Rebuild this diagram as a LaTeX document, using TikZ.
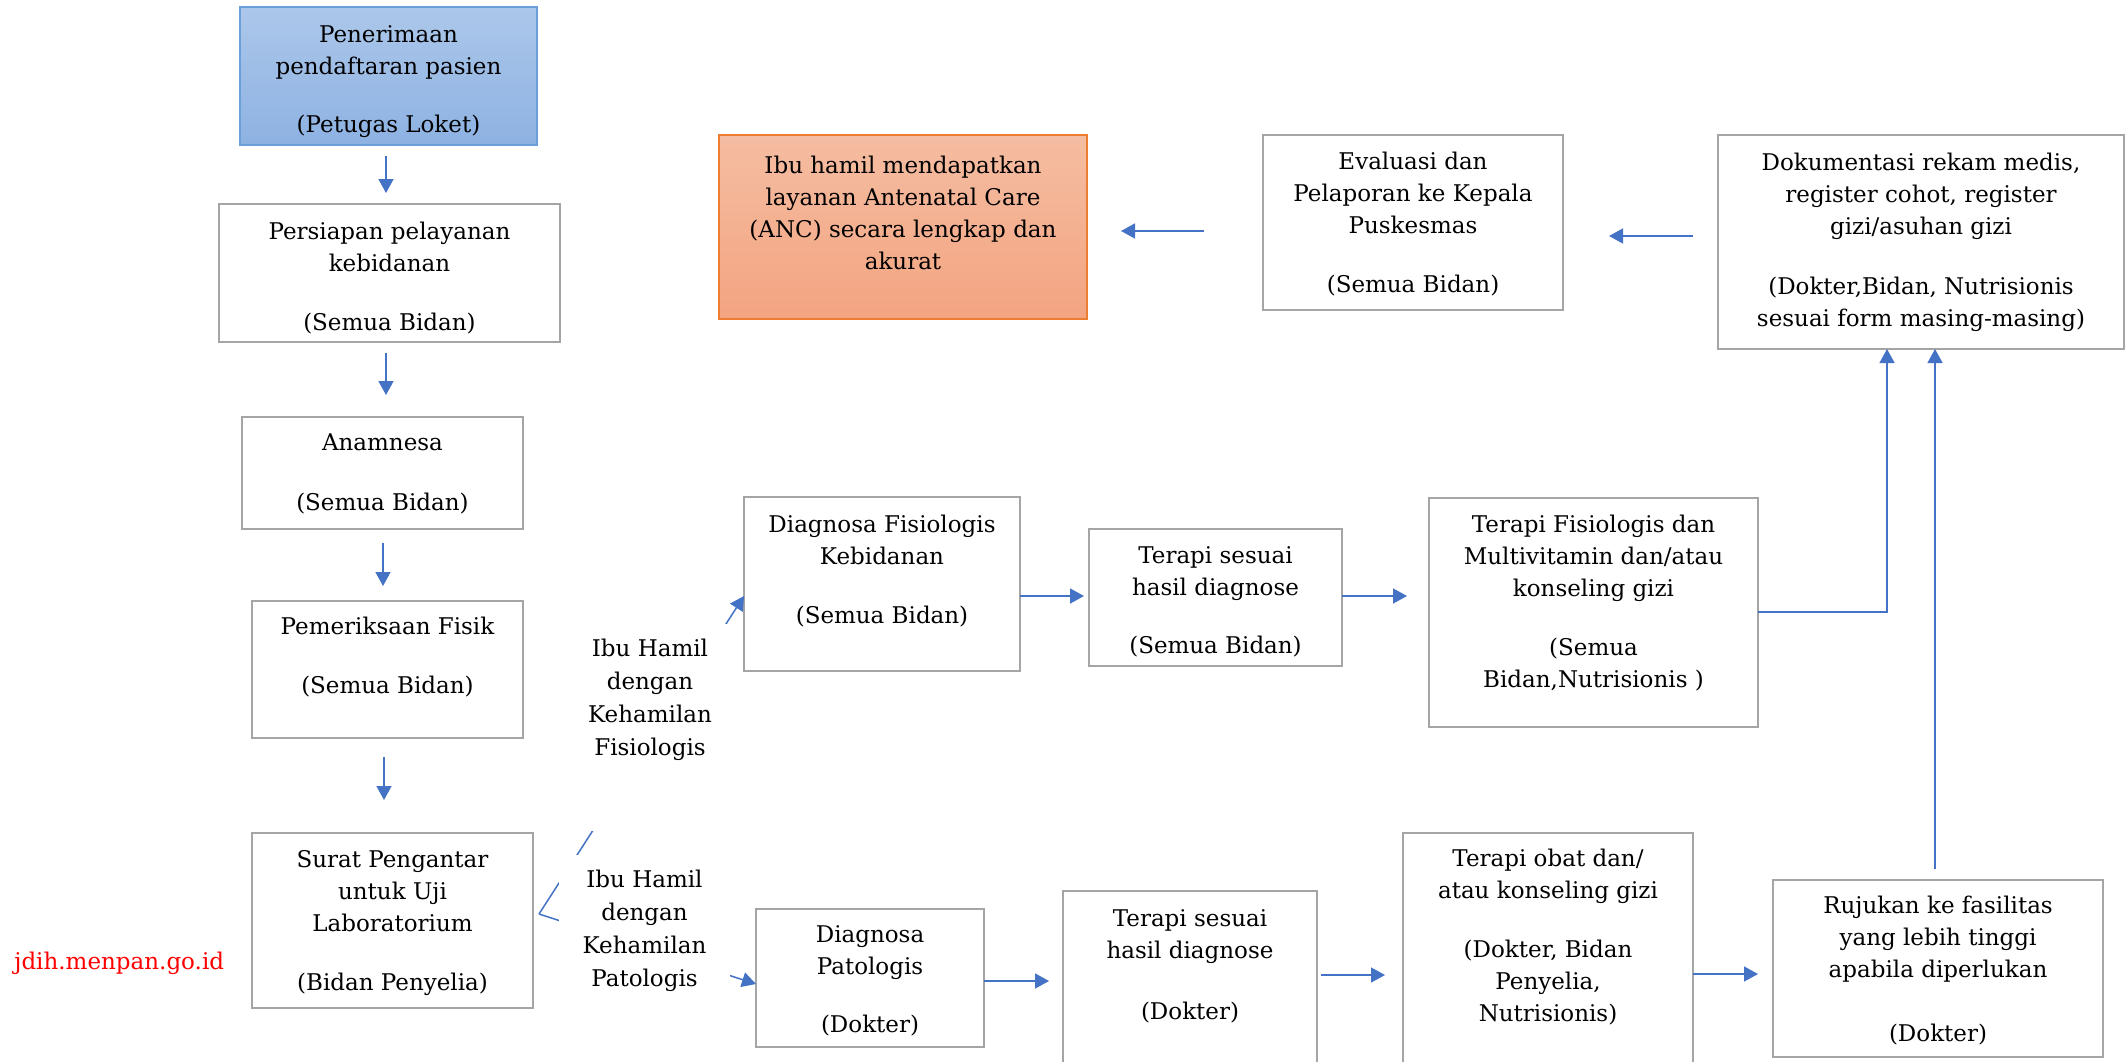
\documentclass[tikz,border=0pt]{standalone}
\usepackage{fontspec}
\setmainfont{DejaVu Serif}
\usetikzlibrary{arrows.meta}
\definecolor{arrowblue}{HTML}{4472C4}
\definecolor{boxgray}{HTML}{A5A5A5}
\definecolor{blueedge}{HTML}{6A9FD8}
\definecolor{bluetop}{RGB}{172,199,234}
\definecolor{bluebot}{RGB}{141,178,226}
\definecolor{orangeedge}{HTML}{ED7D31}
\definecolor{orangetop}{RGB}{245,189,162}
\definecolor{orangebot}{RGB}{243,164,128}
\newcommand{\bxs}{\rule{0pt}{10pt}}
\begin{document}
\begin{tikzpicture}[x=0.5pt,y=-0.5pt,
  stepbox/.style={draw=boxgray, line width=1.3pt, fill=white, inner sep=0pt, outer sep=0pt},
  bluebox/.style={draw=blueedge, line width=0.6pt, top color=bluetop, bottom color=bluebot, inner sep=0pt, outer sep=0pt},
  ancbox/.style={draw=orangeedge, line width=0.6pt, top color=orangetop, bottom color=orangebot, inner sep=0pt, outer sep=0pt},
  txt/.style={font=\fontsize{11.5}{16}\selectfont, align=center, inner sep=0pt, anchor=north},
  lbltxt/.style={font=\fontsize{11.5}{16.5}\selectfont, align=center, inner sep=0pt, anchor=north},
  lblbox/.style={fill=white, draw=none, inner sep=0pt, outer sep=0pt},
  arr/.style={draw=arrowblue, line width=0.75pt, -{Triangle[length=7pt,width=7.5pt]}},
  ln/.style={draw=arrowblue, line width=0.75pt}
]
\useasboundingbox (0,0) rectangle (2128,1061);
\fill[white] (0,0) rectangle (2128,1061);
\clip (0,0) rectangle (2128,1061);

% boxes
\node[bluebox, minimum width=148.5pt, minimum height=69pt] (b1) at (388.5,76) {};
\node[stepbox, minimum width=170.5pt, minimum height=69pt] (b2) at (389.5,273) {};
\node[stepbox, minimum width=140.5pt, minimum height=56pt] (anam) at (382.5,473) {};
\node[stepbox, minimum width=135.5pt, minimum height=68.5pt] (pem) at (387.5,669.5) {};
\node[stepbox, minimum width=140.5pt, minimum height=87.5pt] (surat) at (392.5,920.5) {};
\node[ancbox, minimum width=184pt, minimum height=92pt] (anc) at (903,227) {};
\node[stepbox, minimum width=150pt, minimum height=87.5pt] (eval) at (1413,222.5) {};
\node[stepbox, minimum width=203pt, minimum height=107pt] (dok) at (1921,242) {};
\node[stepbox, minimum width=138pt, minimum height=87pt] (df) at (882,584) {};
\node[stepbox, minimum width=126.5pt, minimum height=68.5pt] (ts1) at (1215.5,597.5) {};
\node[stepbox, minimum width=164.5pt, minimum height=114.5pt] (tf) at (1593.5,612.5) {};
\node[stepbox, minimum width=114pt, minimum height=69pt] (dp) at (870,978) {};
\node[stepbox, minimum width=127pt, minimum height=94.5pt] (ts2) at (1190,985.5) {};
\node[stepbox, minimum width=145pt, minimum height=123.5pt] (to) at (1548,956.5) {};
\node[stepbox, minimum width=165pt, minimum height=88.5pt] (ruj) at (1938,968.5) {};

% texts
\node[txt] (t1) at (388.5,22) {\bxs Penerimaan\\pendaftaran pasien\\[13pt](Petugas Loket)};
\node[txt] (t2) at (389.5,219) {\bxs Persiapan pelayanan\\kebidanan\\[13.5pt](Semua Bidan)};
\node[txt] (t3) at (382.5,430) {\bxs Anamnesa\\[14pt](Semua Bidan)};
\node[txt] (t4) at (387.5,614) {\bxs Pemeriksaan Fisik\\[13.5pt](Semua Bidan)};
\node[txt] (t5) at (392.5,847) {\bxs Surat Pengantar\\untuk Uji\\Laboratorium\\[13.5pt](Bidan Penyelia)};
\node[txt] (t6) at (903,153) {\bxs Ibu hamil mendapatkan\\layanan Antenatal Care\\(ANC) secara lengkap dan\\akurat};
\node[txt] (t7) at (1413,149) {\bxs Evaluasi dan\\Pelaporan ke Kepala\\Puskesmas\\[13.5pt](Semua Bidan)};
\node[txt] (t8) at (1921,150) {\bxs Dokumentasi rekam medis,\\register cohot, register\\gizi/asuhan gizi\\[14pt](Dokter,Bidan, Nutrisionis\\sesuai form masing-masing)};
\node[txt] (t9) at (882,512) {\bxs Diagnosa Fisiologis\\Kebidanan\\[13.5pt](Semua Bidan)};
\node[txt] (t10) at (1215.5,543) {\bxs Terapi sesuai\\hasil diagnose\\[13pt](Semua Bidan)};
\node[txt] (t11) at (1593.5,512) {\bxs Terapi Fisiologis dan\\Multivitamin dan/atau\\konseling gizi\\[13.5pt](Semua\\Bidan,Nutrisionis )};
\node[txt] (t12) at (870,922) {\bxs Diagnosa\\Patologis\\[13pt](Dokter)};
\node[txt] (t13) at (1190,906) {\bxs Terapi sesuai\\hasil diagnose\\[14.5pt](Dokter)};
\node[txt] (t14) at (1548,846) {\bxs Terapi obat dan/\\atau konseling gizi\\[13.5pt](Dokter, Bidan\\Penyelia,\\Nutrisionis)};
\node[txt] (t15) at (1938,893) {\bxs Rujukan ke fasilitas\\yang lebih tinggi\\apabila diperlukan\\[16pt](Dokter)};

\node[anchor=base west, inner sep=0pt, text=red, font=\fontsize{11.5}{14}\selectfont] (wm) at (14,969) {jdih.menpan.go.id};

% connectors
\draw[arr, shorten <=5.5pt, shorten >=5.5pt] (b1.south -| 386,0) -- (b2.north -| 386,0);
\draw[arr, shorten <=5.5pt, shorten >=11pt] (b2.south -| 386,0) -- (anam.north -| 386,0);
\draw[arr, shorten <=7pt, shorten >=7.5pt] (anam.south -| 383,0) -- (pem.north -| 383,0);
\draw[arr, shorten <=9.5pt, shorten >=16.5pt] (pem.south -| 384,0) -- (surat.north -| 384,0);

\coordinate (split) at (539,914);
\draw[arr] (split) -- (df.west |- 0,596);
\draw[arr] (split) -- (dp.west |- 0,984);

\draw[arr, shorten >=2.5pt] (df.east |- 0,596) -- (ts1.west |- 0,596);
\draw[arr, shorten >=11pt] (ts1.east |- 0,596) -- (tf.west |- 0,596);
\draw[arr] (tf.east |- 0,612) -| (dok.south -| 1887,0);
\draw[arr, shorten <=5.5pt] (ruj.north -| 1935,0) -- (dok.south -| 1935,0);
\draw[arr, shorten <=12.5pt, shorten >=23pt] (dok.west |- 0,236) -- (eval.east |- 0,236);
\draw[arr, shorten <=29.5pt, shorten >=17pt] (eval.west |- 0,231) -- (anc.east |- 0,231);

\draw[arr, shorten >=7pt] (dp.east |- 0,981) -- (ts2.west |- 0,981);
\draw[arr, shorten <=2pt, shorten >=9pt] (ts2.east |- 0,975) -- (to.west |- 0,975);
\draw[arr, shorten >=7.5pt] (to.east |- 0,974) -- (ruj.west |- 0,974);

% labels on the split connectors
\node[lblbox, minimum width=80pt, minimum height=103.5pt] (lfis) at (650,727.5) {};
\node[lbltxt] (lfistxt) at (650,636) {\bxs Ibu Hamil\\dengan\\Kehamilan\\Fisiologis};
\node[lblbox, minimum width=85.5pt, minimum height=72.5pt] (lpat) at (644.5,927.5) {};
\node[lbltxt] (lpattxt) at (644.5,867) {\bxs Ibu Hamil\\dengan\\Kehamilan\\Patologis};
\end{tikzpicture}
\end{document}
